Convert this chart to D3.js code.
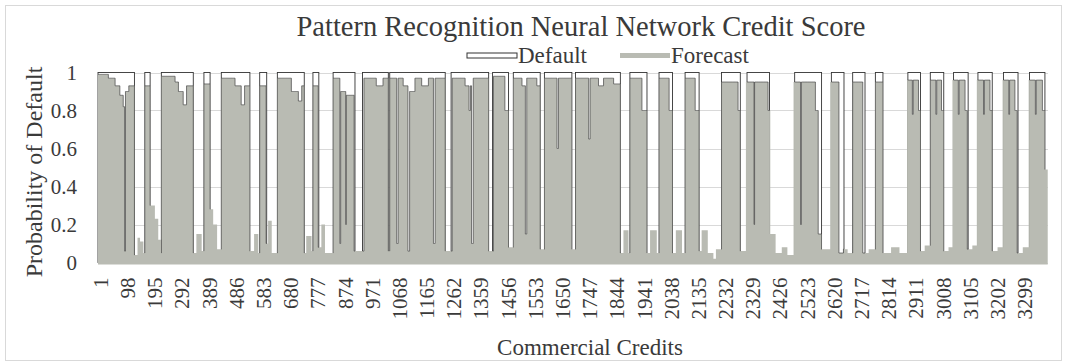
<!DOCTYPE html>
<html>
<head>
<meta charset="utf-8">
<script src="https://cdn.jsdelivr.net/npm/d3@7"></script>
<style>
  body { margin: 0; background: #fff; }
  text { font-family: "Liberation Serif", "Times New Roman", serif; fill: #3a3a3a; }
</style>
</head>
<body>
<svg id="chart" width="1067" height="364"></svg>
<script>
// ---- data ----
var nCredits = 3390;
var categories = d3.range(1, nCredits + 1);
var tickLabels = [1, 98, 195, 292, 389, 486, 583, 680, 777, 874, 971, 1068, 1165, 1262, 1359,
  1456, 1553, 1650, 1747, 1844, 1941, 2038, 2135, 2232, 2329, 2426, 2523, 2620, 2717, 2814,
  2911, 3008, 3105, 3202, 3299];
var yTicks = [0, 0.2, 0.4, 0.6, 0.8, 1];

// forecast probability, as runs [first credit, last credit, value]
var forecastRuns = [
  [1,37,0.99],[38,61,0.97],[62,78,0.93],[79,90,0.88],[91,95,0.82],[96,98,0.06],[99,110,0.9],
  [111,130,0.93],[131,141,0.04],[142,150,0.13],[151,162,0.11],[163,167,0.05],[168,186,0.93],
  [187,203,0.3],[204,215,0.23],[216,225,0.12],[226,226,0.05],[227,275,0.98],[276,287,0.95],
  [288,304,0.9],[305,316,0.83],[317,340,0.93],[341,351,0.05],[352,370,0.15],[371,378,0.06],
  [379,400,0.94],[401,411,0.28],[412,425,0.2],[426,440,0.07],[441,489,0.97],[490,511,0.93],
  [512,523,0.83],[524,542,0.93],[543,557,0.06],[558,572,0.15],[573,577,0.05],[578,600,0.93],
  [601,607,0.1],[608,620,0.22],[621,640,0.05],[641,690,0.97],[691,715,0.9],[716,727,0.85],
  [728,736,0.93],[737,743,0.05],[744,762,0.14],[763,767,0.06],[768,786,0.93],[787,797,0.08],
  [798,810,0.2],[811,839,0.05],[840,863,0.97],[864,866,0.1],[867,884,0.9],[885,886,0.2],
  [887,914,0.88],[915,949,0.06],[950,993,0.97],[994,1017,0.93],[1018,1036,0.97],[1037,1041,0.06],
  [1042,1066,0.97],[1067,1071,0.1],[1072,1089,0.97],[1090,1106,0.93],[1107,1112,0.06],[1113,1131,0.9],
  [1132,1155,0.97],[1156,1179,0.93],[1180,1197,0.97],[1198,1203,0.1],[1204,1239,0.97],[1240,1264,0.06],
  [1265,1310,0.97],[1311,1324,0.93],[1325,1329,0.8],[1330,1333,0.93],[1334,1339,0.1],[1340,1394,0.97],
  [1395,1411,0.06],[1412,1452,0.98],[1453,1465,0.8],[1466,1482,0.08],[1483,1513,0.97],[1514,1525,0.93],
  [1526,1530,0.15],[1531,1566,0.97],[1567,1578,0.93],[1579,1593,0.07],[1594,1638,0.97],[1639,1643,0.6],
  [1644,1691,0.97],[1692,1704,0.07],[1705,1751,0.97],[1752,1756,0.65],[1757,1786,0.97],[1787,1804,0.93],
  [1805,1840,0.97],[1841,1864,0.94],[1865,1875,0.05],[1876,1893,0.17],[1894,1898,0.05],[1899,1941,0.97],
  [1942,1959,0.8],[1960,1970,0.05],[1971,1994,0.17],[1995,2002,0.05],[2003,2038,0.97],[2039,2050,0.8],
  [2051,2062,0.05],[2063,2084,0.17],[2085,2095,0.05],[2096,2131,0.97],[2132,2145,0.8],[2146,2154,0.06],
  [2155,2176,0.17],[2177,2196,0.05],[2197,2205,0.02],[2206,2225,0.07],[2226,2262,0.95],
  [2263,2284,0.95],[2285,2292,0.8],[2293,2312,0.06],[2313,2341,0.95],[2342,2343,0.2],[2344,2391,0.95],
  [2392,2399,0.8],[2400,2418,0.15],[2419,2440,0.05],[2441,2460,0.08],[2461,2482,0.04],[2483,2507,0.95],
  [2508,2510,0.2],[2511,2560,0.95],[2561,2570,0.8],[2571,2582,0.15],[2583,2613,0.07],[2614,2644,0.95],
  [2645,2660,0.05],[2661,2675,0.07],[2676,2693,0.05],[2694,2729,0.95],[2730,2750,0.05],[2751,2774,0.07],
  [2775,2801,0.95],[2802,2830,0.05],[2831,2860,0.08],[2861,2887,0.05],
  [2888,2906,0.96],[2907,2909,0.78],[2910,2928,0.96],[2929,2935,0.8],[2936,2950,0.06],[2951,2970,0.09],
  [2971,2990,0.96],[2991,2993,0.78],[2994,3010,0.96],[3011,3018,0.8],[3019,3035,0.06],[3036,3049,0.08],
  [3050,3070,0.96],[3071,3073,0.78],[3074,3094,0.96],[3095,3102,0.8],[3103,3120,0.07],[3121,3136,0.09],
  [3137,3160,0.96],[3161,3163,0.78],[3164,3183,0.96],[3184,3191,0.8],[3192,3210,0.06],[3211,3228,0.08],
  [3229,3250,0.96],[3251,3253,0.78],[3254,3272,0.96],[3273,3280,0.8],[3281,3300,0.05],[3301,3321,0.08],
  [3322,3345,0.96],[3346,3348,0.78],[3349,3370,0.96],[3371,3379,0.8],[3380,3390,0.49]
];

// credits that defaulted (value 1), as runs [first, last]
var defaultRuns = [
  [1,130],[168,186],[227,340],[379,400],[441,542],[578,602],[641,736],[768,788],[840,917],
  [945,1036],[1042,1239],[1261,1394],[1409,1465],[1483,1578],[1594,1691],[1705,1864],[1899,1959],
  [2003,2050],[2096,2145],[2226,2292],[2317,2396],[2487,2582],[2618,2662],[2694,2737],[2775,2801],
  [2891,2935],[2971,3018],[3054,3105],[3141,3191],[3232,3283],[3325,3379]
];

// expand runs into one value per credit
var forecast = categories.map(function() { return 0; });
forecastRuns.forEach(function(r) {
  for (var i = r[0]; i <= r[1]; i++) forecast[i - 1] = r[2];
});
var points = categories.map(function(c, i) { return { cat: c, v: forecast[i] }; });

// ---- chart ----
var svg = d3.select('#chart');
var plotL = 98, plotR = 1048, plotT = 72.5, plotB = 262.5;
var forecastColor = '#b9bbb3';

var x = d3.scaleBand().domain(categories).range([plotL, plotR]).padding(0);
var y = d3.scaleLinear().domain([0, 1]).range([plotB, plotT]);
var bw = x.bandwidth();

var defs = svg.append('defs');

// outer border
svg.append('rect').attr('x', 5.5).attr('y', 5.5).attr('width', 1056).attr('height', 355)
  .attr('fill', 'none').attr('stroke', '#d9d9d9');

// gridlines
svg.append('g').selectAll('line').data(yTicks).enter().append('line')
  .attr('x1', plotL).attr('x2', plotR)
  .attr('y1', function(d) { return Math.round(y(d)) + 0.5; })
  .attr('y2', function(d) { return Math.round(y(d)) + 0.5; })
  .attr('stroke', '#d9d9d9');

// default series (white, dark outline)
svg.append('g').selectAll('rect').data(defaultRuns).enter().append('rect')
  .attr('x', function(d) { return x(d[0]); })
  .attr('width', function(d) { return x(d[1]) + bw - x(d[0]); })
  .attr('y', y(1)).attr('height', y(0) - y(1))
  .attr('fill', '#fff').attr('stroke', '#333').attr('stroke-width', 0.9);

var clip = defs.append('clipPath').attr('id', 'defclip');
clip.selectAll('rect').data(defaultRuns).enter().append('rect')
  .attr('x', function(d) { return x(d[0]); })
  .attr('width', function(d) { return x(d[1]) + bw - x(d[0]); })
  .attr('y', y(1) - 2).attr('height', y(0) - y(1) + 2);

// forecast series
var area = d3.area()
  .x(function(d) { return x(d.cat); })
  .y0(y(0) + 2)
  .y1(function(d) { return y(d.v); })
  .curve(d3.curveStepAfter);
svg.append('path').datum(points).attr('d', area).attr('fill', forecastColor);

var line = d3.line()
  .x(function(d) { return x(d.cat); })
  .y(function(d) { return y(d.v); })
  .curve(d3.curveStepAfter);
svg.append('path').datum(points).attr('d', line)
  .attr('fill', 'none').attr('stroke', '#444').attr('stroke-width', 0.7)
  .attr('clip-path', 'url(#defclip)');

// y axis
var yAxis = svg.append('g').attr('transform', 'translate(' + plotL + ',0)')
  .call(d3.axisLeft(y).tickValues(yTicks).tickSize(0).tickPadding(21)
    .tickFormat(function(d) { return String(d); }));
yAxis.select('.domain').remove();
yAxis.selectAll('text').attr('font-size', 21).attr('font-family', null).attr('fill', null);

// x axis
var xAxis = svg.append('g').attr('transform', 'translate(0,' + plotB + ')')
  .call(d3.axisBottom(x).tickValues(tickLabels).tickSize(0));
xAxis.select('.domain').remove();
xAxis.selectAll('text')
  .attr('font-size', 21).attr('font-family', null).attr('fill', null)
  .attr('transform', 'rotate(-90)')
  .attr('text-anchor', 'end')
  .attr('x', -15).attr('y', 2).attr('dy', '0.35em');

// titles
svg.append('text').attr('x', 581).attr('y', 36).attr('text-anchor', 'middle')
  .attr('font-size', 28.5).text('Pattern Recognition Neural Network Credit Score');
svg.append('text').attr('x', 590).attr('y', 355).attr('text-anchor', 'middle')
  .attr('font-size', 23).text('Commercial Credits');
svg.append('text').attr('transform', 'translate(42,172) rotate(-90)').attr('text-anchor', 'middle')
  .attr('font-size', 24).text('Probability of Default');

// legend
var legend = [
  { name: 'Default', x: 467, fill: '#fff', stroke: '#333' },
  { name: 'Forecast', x: 620, fill: forecastColor, stroke: 'none' }
];
var lg = svg.append('g').selectAll('g').data(legend).enter().append('g');
lg.append('rect').attr('x', function(d) { return d.x; }).attr('y', 53)
  .attr('width', 50).attr('height', 5)
  .attr('fill', function(d) { return d.fill; }).attr('stroke', function(d) { return d.stroke; });
lg.append('text').attr('x', function(d) { return d.x + 51; }).attr('y', 63)
  .attr('font-size', 23).text(function(d) { return d.name; });
</script>
</body>
</html>
